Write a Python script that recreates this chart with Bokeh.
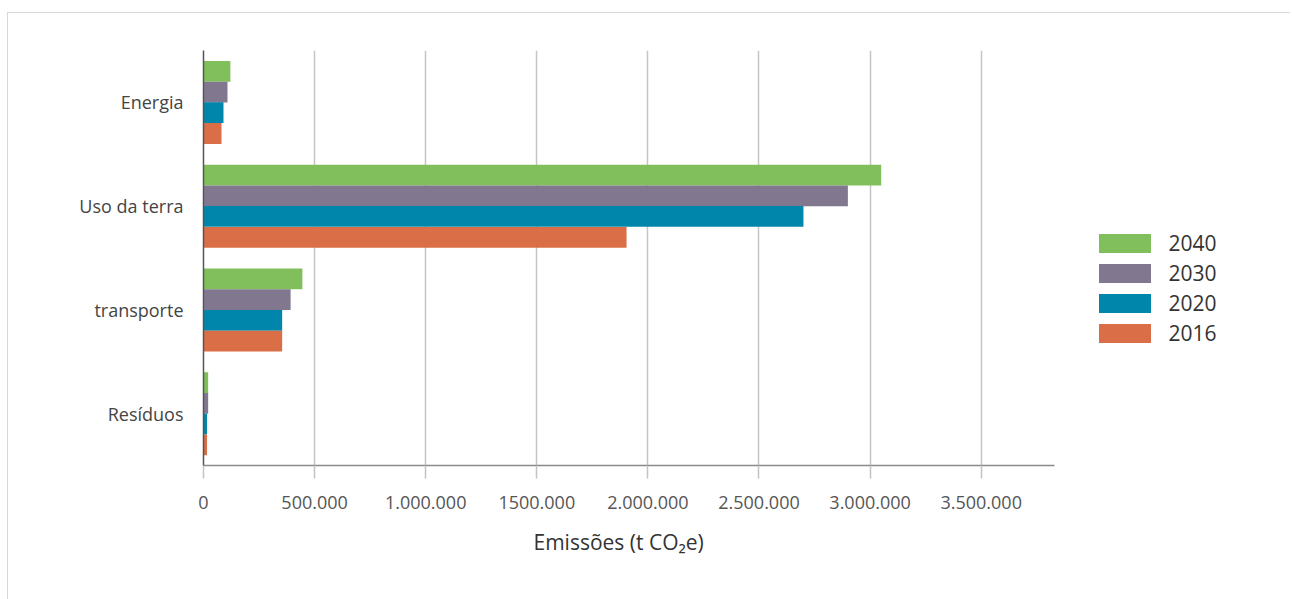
from bokeh.plotting import figure
from bokeh.models import ColumnDataSource, FactorRange, Range1d, FixedTicker, Legend, LegendItem, Title
from bokeh.transform import dodge
from bokeh.embed import file_html
from bokeh.resources import INLINE

categories = ["Energia", "Uso da terra", "transporte", "Resíduos"]
years = ["2040", "2030", "2020", "2016"]
v2040 = [121000, 3050000, 445000, 21000]
v2030 = [108000, 2900000, 392000, 21000]
v2020 = [90000, 2700000, 354000, 16000]
v2016 = [81000, 1904000, 354000, 16000]
tick_values = [0, 500000, 1000000, 1500000, 2000000, 2500000, 3000000, 3500000]
tick_labels = ["0", "500.000", "1.000.000", "1500.000", "2.000.000", "2.500.000", "3.000.000", "3.500.000"]
x_title = "Emissões (t CO₂e)"
colors = ["#80BF5B", "#817890", "#0086AA", "#DA6E46"]

FONT = "Open Sans"
AXIS_MAX = 3830000     # end of the drawn value axis
VIEW_MAX = 4874000     # plot area continues to the right to hold the legend

source = ColumnDataSource(dict(cat=categories, v2040=v2040, v2030=v2030, v2020=v2020, v2016=v2016))

p = figure(
    width=1283, height=587,
    y_range=FactorRange(*categories[::-1], range_padding=0),
    x_range=Range1d(0, VIEW_MAX),
    output_backend="svg", toolbar_location=None,
    min_border_left=196, min_border_top=38, min_border_right=4, min_border_bottom=134,
)
p.styles = {"margin": "12px 0px 0px 7px", "outline": "2px solid #cccccc", "outline-offset": "-2px"}
p.outline_line_color = None
p.background_fill_color = "white"
p.border_fill_color = "white"

offsets = [0.3, 0.1, -0.1, -0.3]
cols = ["v2040", "v2030", "v2020", "v2016"]
renderers = []
for col, off, c in zip(cols, offsets, colors):
    r = p.hbar(y=dodge("cat", off, range=p.y_range), right=col, left=0, height=0.2,
               source=source, fill_color=c, line_color=None)
    renderers.append(r)

legend = Legend(items=[LegendItem(label=y, renderers=[r]) for y, r in zip(years, renderers)],
                location=(888.5, 118.5), orientation="vertical")
legend.glyph_width = 65
legend.glyph_height = 24
legend.spacing = 2
legend.padding = 0
legend.margin = 0
legend.label_standoff = 12
legend.border_line_color = None
legend.background_fill_alpha = 0
legend.label_text_font = FONT
legend.label_text_font_size = "21px"
legend.label_text_color = "#333333"
legend.label_text_baseline = "middle"
p.add_layout(legend)

# x axis
xa = p.xaxis[0]
xa.bounds = (0, AXIS_MAX)
xa.ticker = FixedTicker(ticks=tick_values)
xa.major_label_overrides = {t: l for t, l in zip(tick_values, tick_labels)}
xa.axis_line_color = "#8a8a8a"
xa.axis_line_width = 1.5
xa.major_tick_out = 13
xa.major_tick_in = 0
xa.major_tick_line_color = "#c4c4c4"
xa.major_tick_line_width = 1.5
xa.minor_tick_line_color = None
xa.major_label_text_font = FONT
xa.major_label_text_font_size = "18px"
xa.major_label_text_color = "#555555"
xa.major_label_standoff = 17

# axis title, centred under the drawn part of the axis
t = Title(text=x_title, align="left", offset=330, standoff=29,
          text_font=FONT, text_font_size="21px", text_font_style="normal",
          text_color="#333333")
p.add_layout(t, "below")

# y axis
ya = p.yaxis[0]
ya.axis_line_color = "#555555"
ya.axis_line_width = 1.5
ya.major_tick_line_color = None
ya.minor_tick_line_color = None
ya.major_tick_out = 0
ya.major_tick_in = 0
ya.major_label_standoff = 20
ya.major_label_text_font = FONT
ya.major_label_text_font_size = "18px"
ya.major_label_text_color = "#444444"

p.xgrid.grid_line_color = "#c4c4c4"
p.xgrid.grid_line_width = 1.5
p.ygrid.grid_line_color = None

open("out.html", "w").write(file_html(p, INLINE))
